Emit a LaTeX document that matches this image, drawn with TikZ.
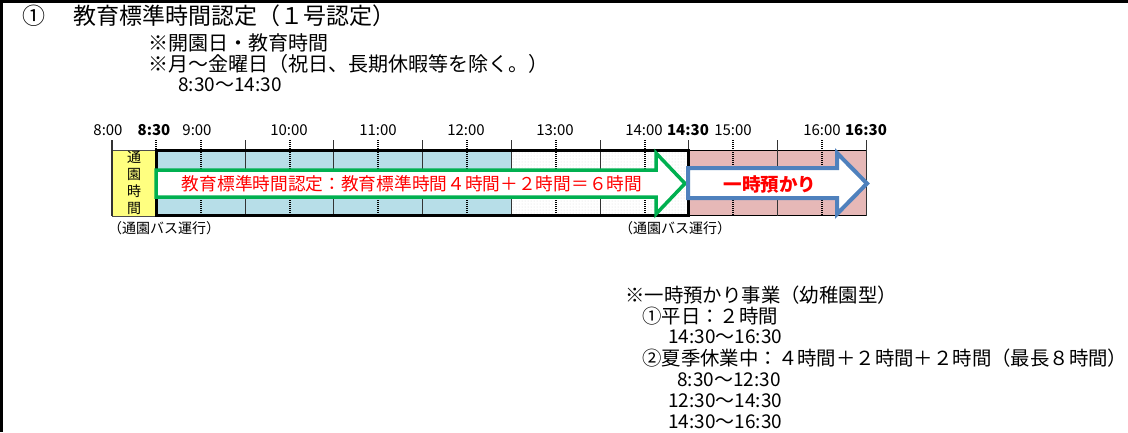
\documentclass[tikz,border=0pt]{standalone}
\usepackage{fontspec}
\setmainfont{Noto Sans CJK JP}
\usetikzlibrary{patterns}
\definecolor{kyouiku}{HTML}{B7DEE8}
\definecolor{azukari}{HTML}{E6B8B7}
\definecolor{tsuen}{HTML}{FFFF80}
\definecolor{midori}{HTML}{00B050}
\definecolor{aoi}{HTML}{4F81BD}
\tikzset{
  txt/.style={inner sep=0pt, font=\fontsize{#1}{#1}\selectfont},
  tickline/.style={line width=1.2pt, black!80},
  tickdash/.style={line width=2pt, dash pattern=on 1pt off 1pt},
  bigarrow/.style={line width=3.5pt, fill=white, line join=miter, miter limit=10}
}
\newcommand{\hx}[1]{\pgfmathsetmacro\x{112+(#1-8)*88.75}}

\begin{document}
\begin{tikzpicture}[x=1pt, y=-1pt]
\useasboundingbox (0,0) rectangle (1128,432);
\draw[line width=2.8pt] (1128,1.4) -- (1.25,1.4) -- (1.25,432);

% title and notes
\node[txt=23] (maru) at (33.5,16) {①};
\node[txt=23, anchor=west] (title) at (73,16) {教育標準時間認定（１号認定）};
\node[txt=20, anchor=west] (note1) at (148,43) {※開園日・教育時間};
\node[txt=20, anchor=west] (note2) at (148,64) {※月～金曜日（祝日、長期休暇等を除く。）};
\node[txt=19, anchor=west] (note3) at (178,85) {8:30～14:30};

% time scale
\foreach \px/\lbl [count=\i] in {108/8:00, 154/\textbf{8:30}, 197/9:00, 289/10:00,
    378/11:00, 466/12:00, 555/13:00, 644/14:00, 688/\textbf{14:30}, 733/15:00,
    822/16:00, 866/\textbf{16:30}}
  \node[txt=15] (time\i) at (\px,130) {\lbl};

% bands
\fill[tsuen] (112,150) rectangle (156,216);
\draw[black!70, line width=0.6pt] (112,150) rectangle (156,216);
\fill[kyouiku] (156,150) rectangle (511,215);
\fill[pattern=dots, pattern color=black!15] (511,150) rectangle (688,215);
\fill[azukari] (688,150) rectangle (866,215);
\draw[line width=1pt] (688,150) rectangle (866,215);

\foreach \t in {8,9.5,10.5,11.5,12.5,13.5,14.5,15.5,16.5}{
  \hx{\t}
  \draw[tickline] (\x,140) -- (\x,216);
}
\foreach \t in {8.5,9,10,11,12,13,14,15,16}{
  \hx{\t}
  \draw[tickdash] (\x,140) -- (\x,215);
}
\draw[line width=3pt] (156,150) rectangle (688,215);

% arrows
\draw[bigarrow, draw=midori] (156,170) -- (656,170) -- (656,153) -- (685,183.5)
  -- (656,214) -- (656,197) -- (156,197) -- cycle;
\draw[bigarrow, draw=aoi, line width=4pt] (688,168) -- (837,168) -- (837,153)
  -- (867,183.5) -- (837,214) -- (837,198) -- (688,198) -- cycle;
\node[txt=17.7, red] (nintei) at (412,184)
  {教育標準時間認定：教育標準時間４時間＋２時間＝６時間};
\node[txt=18.5, red] (ichiji) at (770,184) {\bfseries 一時預かり};

\node[inner sep=0pt, align=center, font=\fontsize{14}{17}\selectfont]
  (tsuenjikan) at (134,183) {通\\園\\時\\間};
\node[txt=14] (bus1) at (164,228) {（通園バス運行）};
\node[txt=14] (bus2) at (675,228) {（通園バス運行）};

% temporary care
\node[txt=19.4, anchor=west] (care) at (625,295) {※一時預かり事業（幼稚園型）};
\node[txt=19.4, anchor=west] (care1) at (642,316) {①平日：２時間};
\node[txt=19, anchor=west] (care1a) at (668,337) {14:30～16:30};
\node[txt=19.4, anchor=west] (care2) at (642,358)
  {②夏季休業中：４時間＋２時間＋２時間（最長８時間）};
\node[txt=19, anchor=west] (care2a) at (677,380) {8:30～12:30};
\node[txt=19, anchor=west] (care2b) at (668,401) {12:30～14:30};
\node[txt=19, anchor=west] (care2c) at (668,422) {14:30～16:30};
\end{tikzpicture}
\end{document}
